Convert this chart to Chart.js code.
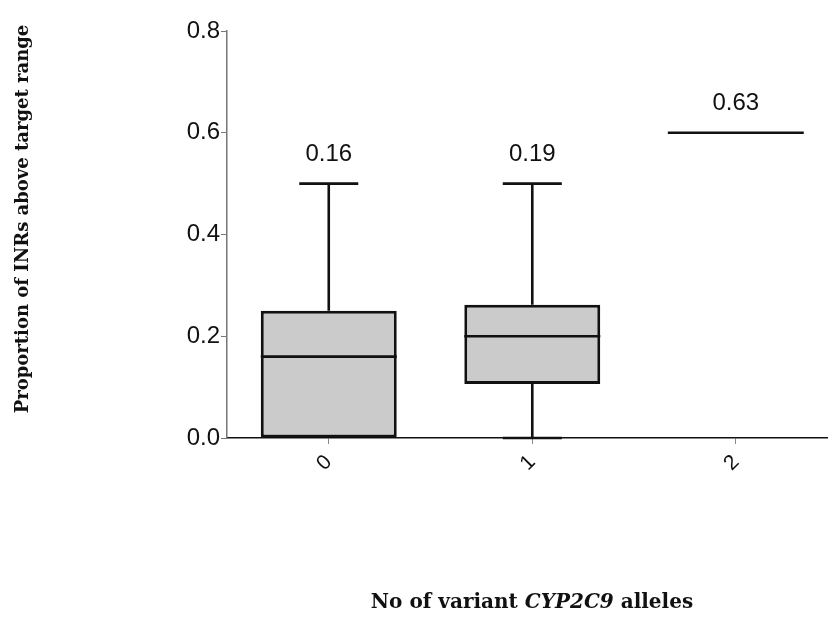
<!DOCTYPE html>
<html>
<head>
<meta charset="utf-8">
<script src="https://cdn.jsdelivr.net/npm/chart.js@4"></script>
<style>
    html, body { margin: 0; padding: 0; background: #fff; }
    #wrap { width: 828px; height: 622px; position: relative; }
</style>
</head>
<body>
<div id="wrap"><canvas id="chart"></canvas></div>
<script>
// box plot values per number of variant alleles
const categories = [0, 1, 2];
const tickLabels = ['0', '1', '2'];
const whiskerLow = [0, 0, 0.6];
const q1 = [0, 0.106, 0.6];
const median = [0.16, 0.2, 0.6];
const q3 = [0.25, 0.262, 0.6];
const whiskerHigh = [0.5, 0.5, 0.6];
const valueLabels = ['0.16', '0.19', '0.63'];

const yTitle = 'Proportion of INRs above target range';

const boxHalf = 0.334;
const capHalf = 0.145;
const titleFont = '"DejaVu Serif", "Liberation Serif", serif';
const numFont = 'Arial, "Liberation Sans", sans-serif';

// boxes only where there is an interquartile range
let boxData = [];
for (let i = 0; i < categories.length; i++) {
    if (q3[i] > q1[i]) {
        boxData.push({ x: categories[i], y: [q1[i], q3[i]] });
    }
}

const boxPlot = {
    id: 'boxPlot',
    afterDatasetsDraw: chart => {
        const ctx = chart.ctx;
        const xs = chart.scales.x;
        const ys = chart.scales.y;
        ctx.save();
        ctx.strokeStyle = '#111';
        ctx.lineWidth = 2.6;
        ctx.lineCap = 'butt';
        for (let i = 0; i < categories.length; i++) {
            let cx = xs.getPixelForValue(categories[i]);
            let bl = xs.getPixelForValue(categories[i] - boxHalf);
            let br = xs.getPixelForValue(categories[i] + boxHalf);
            let cl = xs.getPixelForValue(categories[i] - capHalf);
            let cr = xs.getPixelForValue(categories[i] + capHalf);
            ctx.beginPath();
            if (whiskerHigh[i] > q3[i]) {
                ctx.moveTo(cx, ys.getPixelForValue(q3[i]));
                ctx.lineTo(cx, ys.getPixelForValue(whiskerHigh[i]));
                ctx.moveTo(cl, ys.getPixelForValue(whiskerHigh[i]));
                ctx.lineTo(cr, ys.getPixelForValue(whiskerHigh[i]));
            }
            if (whiskerLow[i] < q1[i]) {
                ctx.moveTo(cx, ys.getPixelForValue(q1[i]));
                ctx.lineTo(cx, ys.getPixelForValue(whiskerLow[i]));
                ctx.moveTo(cl, ys.getPixelForValue(whiskerLow[i]));
                ctx.lineTo(cr, ys.getPixelForValue(whiskerLow[i]));
            }
            ctx.moveTo(bl, ys.getPixelForValue(median[i]));
            ctx.lineTo(br, ys.getPixelForValue(median[i]));
            ctx.stroke();

            ctx.fillStyle = '#111';
            ctx.font = '24px ' + numFont;
            ctx.textAlign = 'center';
            ctx.textBaseline = 'middle';
            ctx.fillText(valueLabels[i], cx, ys.getPixelForValue(whiskerHigh[i]) - 29);
        }
        ctx.restore();
    },
    afterDraw: chart => {
        const ctx = chart.ctx;
        ctx.save();
        ctx.fillStyle = '#111';
        ctx.textBaseline = 'middle';

        // y title, rotated
        ctx.translate(23, 219);
        ctx.rotate(-Math.PI / 2);
        ctx.textAlign = 'center';
        ctx.font = 'bold 18px ' + titleFont;
        ctx.fillText(yTitle, 0, 0);
        ctx.setTransform(1, 0, 0, 1, 0, 0);

        // x title with italic gene name
        const parts = [
            ['No of variant ', 'bold 20px ' + titleFont],
            ['CYP2C9', 'italic bold 20px ' + titleFont],
            [' alleles', 'bold 20px ' + titleFont]
        ];
        let total = 0;
        for (let p of parts) {
            ctx.font = p[1];
            total += ctx.measureText(p[0]).width;
        }
        let x = 532 - total / 2;
        ctx.textAlign = 'left';
        for (let p of parts) {
            ctx.font = p[1];
            ctx.fillText(p[0], x, 603);
            x += ctx.measureText(p[0]).width;
        }
        ctx.restore();
    }
};

const chart = new Chart(document.getElementById('chart'), {
    type: 'bar',
    data: {
        datasets: [{
            data: boxData,
            backgroundColor: '#cbcbcb',
            borderColor: '#111',
            borderWidth: 3,
            borderSkipped: false,
            barPercentage: 0.668,
            categoryPercentage: 1
        }]
    },
    options: {
        responsive: true,
        maintainAspectRatio: false,
        animation: false,
        layout: { padding: { top: 31, right: 0, left: 0, bottom: 0 } },
        plugins: {
            legend: { display: false },
            tooltip: { enabled: false }
        },
        scales: {
            x: {
                type: 'linear',
                offset: false,
                min: -0.5,
                max: 2.453,
                afterBuildTicks: scale => {
                    scale.ticks = categories.map(v => ({ value: v }));
                },
                afterFit: scale => { scale.height = 184; },
                grid: {
                    offset: false,
                    drawOnChartArea: false,
                    drawTicks: true,
                    tickLength: 6,
                    color: '#888'
                },
                border: { color: '#111', width: 1.5 },
                ticks: {
                    autoSkip: false,
                    minRotation: 45,
                    maxRotation: 45,
                    padding: 6,
                    color: '#111',
                    font: { family: numFont, size: 21 },
                    callback: (v, i) => tickLabels[i]
                }
            },
            y: {
                min: 0,
                max: 0.8,
                afterFit: scale => { scale.width = 227; },
                grid: {
                    drawOnChartArea: false,
                    drawTicks: true,
                    tickLength: 6,
                    color: '#777'
                },
                border: { color: '#777', width: 1.5 },
                ticks: {
                    stepSize: 0.2,
                    padding: 1,
                    color: '#111',
                    font: { family: numFont, size: 24 },
                    callback: v => v.toFixed(1)
                }
            }
        }
    },
    plugins: [boxPlot]
});
</script>
</body>
</html>
